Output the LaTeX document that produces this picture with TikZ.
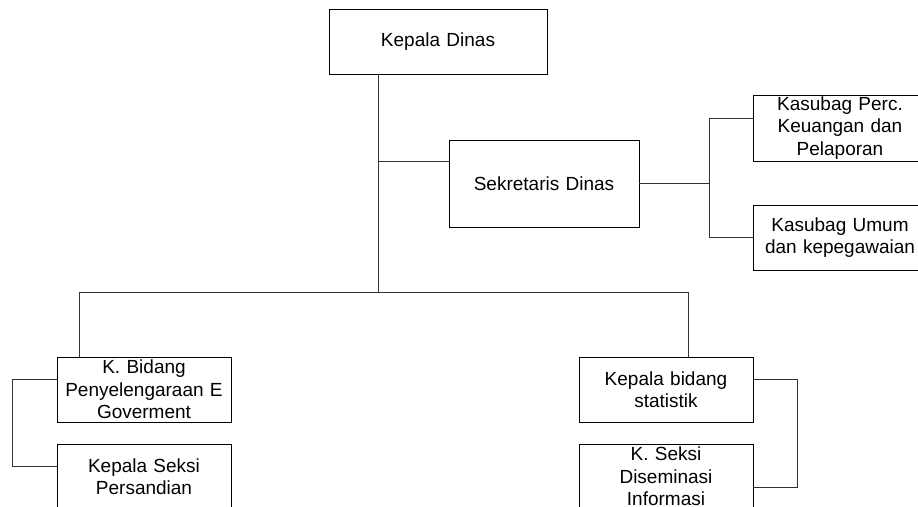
\documentclass[tikz,border=0pt]{standalone}
\usepackage{fontspec}
\setmainfont{Liberation Sans}
\begin{document}
\begin{tikzpicture}[x=1pt,y=-1pt,
  box/.style={draw=black,line width=0.9pt,rectangle,inner sep=0pt,align=center,
    font=\fontsize{19}{22.5}\selectfont,minimum height=65pt},
  conn/.style={draw=black!80,line width=0.9pt}]
\useasboundingbox (0,0) rectangle (918,506);
\clip (0,0) rectangle (918,506);
\fill[white] (0,0) rectangle (918,506);
\node[box,minimum width=218pt,text width=218pt] (kd) at (438,41.5) {Kepala Dinas};
\node[box,minimum width=190pt,text width=190pt,minimum height=87pt] (sd) at (544,183.5) {Sekretaris Dinas};
\node[box,minimum width=174pt,text width=174pt,minimum height=66pt] (perc) at (840,128) {Kasubag Perc.\\Keuangan dan\\Pelaporan};
\node[box,minimum width=174pt,text width=174pt] (umum) at (840,237.5) {Kasubag Umum\\dan kepegawaian};
\node[box,minimum width=174pt,text width=174pt] (kb) at (144,389.5) {K. Bidang\\Penyelengaraan E\\Goverment};
\node[box,minimum width=174pt,text width=174pt] (ks) at (144,476.5) {Kepala Seksi\\Persandian};
\node[box,minimum width=174pt,text width=174pt] (kbs) at (666,389.5) {Kepala bidang\\statistik};
\node[box,minimum width=174pt,text width=174pt] (kss) at (666,476.5) {K. Seksi\\Diseminasi\\Informasi};
\coordinate (j1) at (378,161);
\coordinate (j2) at (378,292);
\coordinate (bl) at (79,292);
\coordinate (br) at (688,292);
\coordinate (rb) at (710,0);
\draw[conn] (kd.south -| j2) -- (j2);
\draw[conn] (j1) -- (j1 -| sd.west);
\draw[conn] (sd.east) -- (sd.east -| rb);
\draw[conn] ([yshift=10pt]perc.west) -- ++(-43,0) |- (umum.west);
\draw[conn] (bl) -- (br);
\draw[conn] (bl) -- (bl |- kb.north);
\draw[conn] (br) -- (br |- kbs.north);
\draw[conn] ([yshift=10.5pt]kb.west) -- ++(-44,0) |- ([yshift=10.5pt]ks.west);
\draw[conn] ([yshift=10.5pt]kbs.east) -- ++(44,0) |- ([yshift=-10.5pt]kss.east);
\end{tikzpicture}
\end{document}
